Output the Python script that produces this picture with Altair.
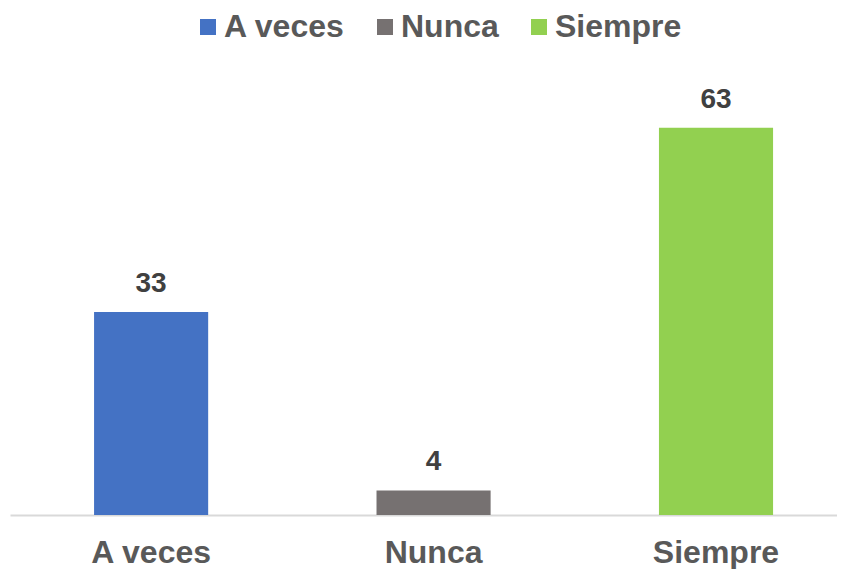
import altair as alt
import pandas as pd

categories = ["A veces", "Nunca", "Siempre"]
values = [33, 4, 63]
colors = ["#4472C4", "#767171", "#92D050"]

df = pd.DataFrame({"cat": categories, "val": values})

x = alt.X("cat:N", sort=categories,
          scale=alt.Scale(paddingInner=0.596, paddingOuter=0.262, align=0.568),
          axis=alt.Axis(title=None, labelAngle=0, labelFont="Liberation Sans",
                        labelFontSize=32, labelFontWeight="bold", labelColor="#595959",
                        labelPadding=22, ticks=False, domainColor="#D9D9D9", domainWidth=2))
y = alt.Y("val:Q", scale=alt.Scale(domain=[0, 74]), axis=None)

bars = alt.Chart(df).mark_bar().encode(
    x=x, y=y,
    color=alt.Color("cat:N", sort=categories,
                    scale=alt.Scale(domain=categories, range=colors),
                    legend=alt.Legend(title=None, orient="none", direction="horizontal",
                                      legendX=182, legendY=-49,
                                      symbolType="square", symbolSize=256,
                                      symbolStrokeWidth=0, labelFont="Liberation Sans",
                                      labelFontSize=32, labelFontWeight="bold",
                                      labelColor="#595959", columnPadding=24,
                                      labelOffset=0, labelLimit=300)),
)

labels = alt.Chart(df).mark_text(dy=-28, font="Liberation Sans", fontSize=28,
                                 fontWeight="bold", color="#404040").encode(
    x=alt.X("cat:N", sort=categories), y=y, text="val:Q"
)

chart = (bars + labels).properties(
    width=827, height=455,
    padding={"left": 2, "right": 0, "top": 52, "bottom": 58},
    autosize=alt.AutoSizeParams(type="none"),
).configure_view(stroke=None)

chart.save("out.html", embed_options={"renderer": "svg", "actions": False})
